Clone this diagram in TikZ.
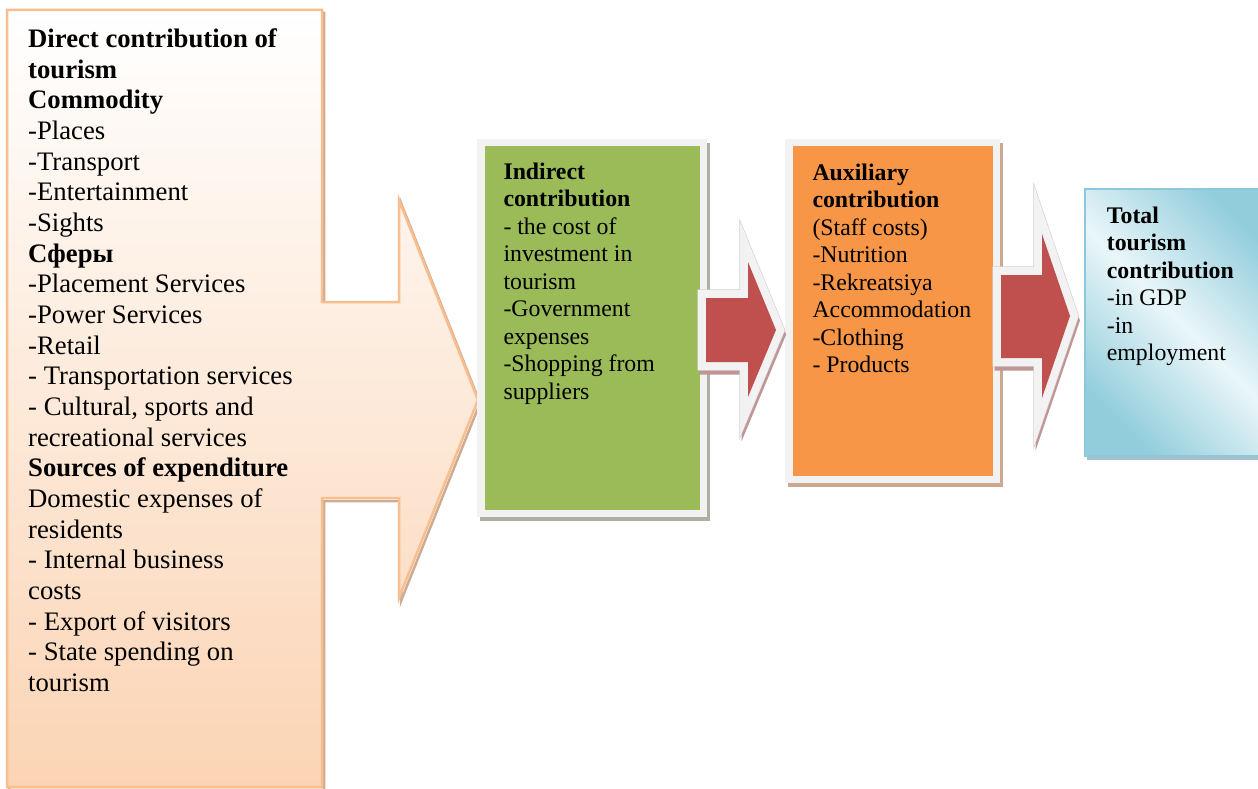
\documentclass[tikz,border=0pt]{standalone}
\usepackage{fontspec}
\setmainfont{Liberation Serif}
\definecolor{peachLine}{RGB}{249,190,142}
\definecolor{peachLow}{RGB}{251,212,180}
\definecolor{peachShadow}{RGB}{205,172,148}
\definecolor{frameGray}{RGB}{242,242,242}
\definecolor{frameEdge}{RGB}{215,205,205}
\definecolor{leafGreen}{RGB}{155,187,89}
\definecolor{greenShadow}{RGB}{172,176,160}
\definecolor{warmOrange}{RGB}{247,150,70}
\definecolor{orangeShadow}{RGB}{204,168,142}
\definecolor{brickRed}{RGB}{192,80,77}
\definecolor{redShadow}{RGB}{190,150,150}
\definecolor{skyDark}{RGB}{146,205,220}
\definecolor{skyLight}{RGB}{234,246,249}
\definecolor{skyLine}{RGB}{140,200,218}
\definecolor{skyShadow}{RGB}{168,192,202}
\begin{document}
\begin{tikzpicture}[x=1pt,y=-1pt,
  bigtext/.style={anchor=north west, inner sep=0pt, align=left,
    font=\fontsize{26.7}{30.67}\selectfont},
  smalltext/.style={anchor=north west, inner sep=0pt, align=left,
    font=\fontsize{23.8}{27.5}\selectfont},
  framedbox/.style 2 args={draw=frameGray, line width=7.5pt, fill=#1, inner sep=0pt,
    preaction={draw=#2, fill=#2, line width=7.5pt, transform canvas={shift={(3,4)}}}},
  blockarrow/.style={fill=brickRed, line join=miter,
    preaction={draw=redShadow, fill=redShadow, line width=16pt, line join=miter,
      transform canvas={shift={(1.5,4.5)}}},
    preaction={draw=frameEdge, line width=17.2pt, line join=miter},
    preaction={draw=frameGray, line width=16pt, line join=miter}},
]
\useasboundingbox (0,0) rectangle (1258,789);
\fill[white] (0,0) rectangle (1258,789);

% direct contribution: box with a broad arrow head
\shade[top color=white, bottom color=peachLow, draw=peachLine, line width=2.5pt, line join=miter,
  preaction={draw=peachShadow, line width=2.5pt, line join=miter, transform canvas={shift={(2,3)}}}]
  (7,10) -- (322,10) -- (322,302) -- (399,302) -- (399,200) -- (478,400)
  -- (399,598) -- (399,498) -- (322,498) -- (322,787) -- (7,787) -- cycle;

% boxes
\node[framedbox={leafGreen}{greenShadow}, minimum width=222.5pt, minimum height=370.5pt]
  (indirect) at (592,328) {};
\node[framedbox={warmOrange}{orangeShadow}, minimum width=207.5pt, minimum height=336.5pt]
  (auxiliary) at (892.5,311) {};
\node[draw=skyLine, line width=2.5pt, minimum width=190pt, minimum height=267pt, inner sep=0pt,
  top color=skyDark, bottom color=skyDark, middle color=skyLight, shading angle=-45,
  preaction={fill=skyShadow, transform canvas={shift={(2,4)}}}]
  (total) at (1180,322.5) {};

% block arrows between the boxes
\path[blockarrow] (706,298) -- (748,298) -- (748,262) -- (776,330)
  -- (748,397) -- (748,362) -- (706,362) -- cycle;
\path[blockarrow] (1001,275) -- (1042,275) -- (1042,234) -- (1070,316)
  -- (1042,398) -- (1042,358) -- (1001,358) -- cycle;

% texts
\node[bigtext] (directText) at (28,28.5) {\textbf{Direct contribution of}\\
  \textbf{tourism}\\
  \textbf{Commodity}\\
  -Places\\
  -Transport\\
  -Entertainment\\
  -Sights\\
  \textbf{Сферы}\\
  -Placement Services\\
  -Power Services\\
  -Retail\\
  - Transportation services\\
  - Cultural, sports and\\
  recreational services\\
  \textbf{Sources of expenditure}\\
  Domestic expenses of\\
  residents\\
  - Internal business\\
  costs\\
  - Export of visitors\\
  - State spending on\\
  tourism};

\node[smalltext] (indirectText) at (503.3,162.7) {\textbf{Indirect}\\
  \textbf{contribution}\\
  - the cost of\\
  investment in\\
  tourism\\
  -Government\\
  expenses\\
  -Shopping from\\
  suppliers};

\node[smalltext] (auxiliaryText) at (812.3,163.5) {\textbf{Auxiliary}\\
  \textbf{contribution}\\
  (Staff costs)\\
  -Nutrition\\
  -Rekreatsiya\\
  Accommodation\\
  -Clothing\\
  - Products};

\node[smalltext] (totalText) at (1106.7,206.7) {\textbf{Total}\\
  \textbf{tourism}\\
  \textbf{contribution}\\
  -in GDP\\
  -in\\
  employment};
\end{tikzpicture}
\end{document}
